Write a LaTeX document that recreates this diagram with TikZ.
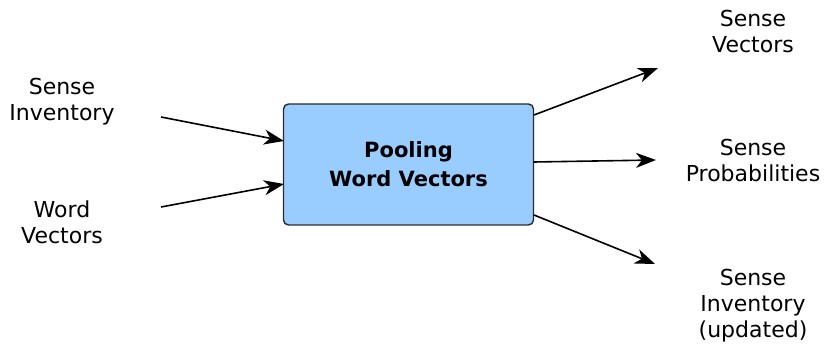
\documentclass[tikz,border=0pt]{standalone}
\usepackage{fontspec}
\setmainfont{DejaVu Sans}
\usetikzlibrary{arrows.meta}
\definecolor{boxfill}{HTML}{99CCFF}
\definecolor{boxline}{HTML}{2B2B2B}
\tikzset{
  lbl/.style={align=center, inner sep=0pt, anchor=north, font=\fontsize{22}{26}\selectfont},
  poolbox/.style={draw=boxline, line width=1.4pt, fill=boxfill, rounded corners=5pt,
    minimum width=250pt, minimum height=121pt, align=center,
    font=\fontsize{21}{29}\selectfont\bfseries},
  flow/.style={line width=1.6pt, -{Stealth[length=20pt, width=15pt, inset=6pt]}}
}
\begin{document}
\begin{tikzpicture}[x=1pt, y=-1pt]
  \useasboundingbox (0,0) rectangle (824,347);

  % central pooling step
  \node[poolbox] (pool) at (408.5,164.5) {Pooling\\Word Vectors};

  % inputs
  \node[lbl] (inv) at (62,78)  {Sense\\Inventory};
  \node[lbl] (wv)  at (62,201) {Word\\Vectors};

  % outputs
  \node[lbl] (sv)  at (753,10)  {Sense\\Vectors};
  \node[lbl] (sp)  at (753,139) {Sense\\Probabilities};
  \node[lbl] (inu) at (753,269) {Sense\\Inventory\\(updated)};

  % connector end points
  \coordinate (invT) at (161,117);
  \coordinate (wvT)  at (161,207);
  \coordinate (poolA) at (284,141);
  \coordinate (poolB) at (284,184);
  \coordinate (poolC) at (534,115);
  \coordinate (poolD) at (534,162);
  \coordinate (poolE) at (534,215);
  \coordinate (svH) at (658,68);
  \coordinate (spH) at (656,160);
  \coordinate (inuH) at (655,264);

  \draw[flow] (invT) -- (poolA);
  \draw[flow] (wvT) -- (poolB);
  \draw[flow] (poolC) -- (svH);
  \draw[flow] (poolD) -- (spH);
  \draw[flow] (poolE) -- (inuH);
\end{tikzpicture}
\end{document}
